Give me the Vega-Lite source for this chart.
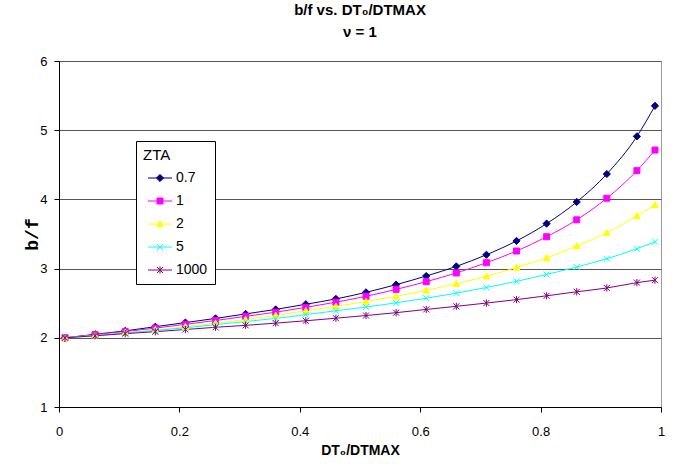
{
  "$schema": "https://vega.github.io/schema/vega-lite/v6.json",
  "width": 602,
  "height": 346,
  "autosize": {"type": "none"},
  "padding": {"left": 59, "top": 61, "right": 20, "bottom": 68},
  "background": "white",
  "config": {
    "font": "Liberation Sans",
    "view": {"stroke": "#9a9a9a", "strokeWidth": 1},
    "legend": {
      "orient": "none",
      "legendX": 77,
      "legendY": 80,
      "strokeColor": "#000000",
      "fillColor": "#ffffff",
      "padding": 7,
      "titleFontSize": 15,
      "titleFontWeight": "normal",
      "titleColor": "#000000",
      "titlePadding": 8,
      "labelFontSize": 14,
      "labelColor": "#000000",
      "symbolSize": 36,
      "symbolOpacity": 1,
      "symbolStrokeWidth": 1,
      "symbolOffset": 10,
      "labelOffset": 9,
      "rowPadding": 9
    }
  },
  "title": {
    "text": ["b/f vs. DT₀/DTMAX", "ν = 1"],
    "fontSize": 15,
    "fontWeight": "bold",
    "color": "#000000",
    "lineHeight": 22,
    "anchor": "middle",
    "offset": 15
  },
  "data": {
    "values": [
      {"x": 0.01, "s": "0.7", "y": 2.0},
      {"x": 0.06, "s": "0.7", "y": 2.05},
      {"x": 0.11, "s": "0.7", "y": 2.1},
      {"x": 0.16, "s": "0.7", "y": 2.16},
      {"x": 0.21, "s": "0.7", "y": 2.22},
      {"x": 0.26, "s": "0.7", "y": 2.28},
      {"x": 0.31, "s": "0.7", "y": 2.345},
      {"x": 0.36, "s": "0.7", "y": 2.41},
      {"x": 0.41, "s": "0.7", "y": 2.485},
      {"x": 0.46, "s": "0.7", "y": 2.562},
      {"x": 0.51, "s": "0.7", "y": 2.657},
      {"x": 0.56, "s": "0.7", "y": 2.768},
      {"x": 0.61, "s": "0.7", "y": 2.893},
      {"x": 0.66, "s": "0.7", "y": 3.032},
      {"x": 0.71, "s": "0.7", "y": 3.2},
      {"x": 0.76, "s": "0.7", "y": 3.4},
      {"x": 0.81, "s": "0.7", "y": 3.65},
      {"x": 0.86, "s": "0.7", "y": 3.963},
      {"x": 0.91, "s": "0.7", "y": 4.367},
      {"x": 0.96, "s": "0.7", "y": 4.911},
      {"x": 0.99, "s": "0.7", "y": 5.352},
      {"x": 0.01, "s": "1", "y": 2.0},
      {"x": 0.06, "s": "1", "y": 2.045},
      {"x": 0.11, "s": "1", "y": 2.09},
      {"x": 0.16, "s": "1", "y": 2.14},
      {"x": 0.21, "s": "1", "y": 2.195},
      {"x": 0.26, "s": "1", "y": 2.25},
      {"x": 0.31, "s": "1", "y": 2.31},
      {"x": 0.36, "s": "1", "y": 2.37},
      {"x": 0.41, "s": "1", "y": 2.44},
      {"x": 0.46, "s": "1", "y": 2.515},
      {"x": 0.51, "s": "1", "y": 2.6},
      {"x": 0.56, "s": "1", "y": 2.7},
      {"x": 0.61, "s": "1", "y": 2.811},
      {"x": 0.66, "s": "1", "y": 2.937},
      {"x": 0.71, "s": "1", "y": 3.085},
      {"x": 0.76, "s": "1", "y": 3.254},
      {"x": 0.81, "s": "1", "y": 3.46},
      {"x": 0.86, "s": "1", "y": 3.705},
      {"x": 0.91, "s": "1", "y": 4.017},
      {"x": 0.96, "s": "1", "y": 4.415},
      {"x": 0.99, "s": "1", "y": 4.713},
      {"x": 0.01, "s": "2", "y": 2.0},
      {"x": 0.06, "s": "2", "y": 2.035},
      {"x": 0.11, "s": "2", "y": 2.075},
      {"x": 0.16, "s": "2", "y": 2.115},
      {"x": 0.21, "s": "2", "y": 2.16},
      {"x": 0.26, "s": "2", "y": 2.21},
      {"x": 0.31, "s": "2", "y": 2.265},
      {"x": 0.36, "s": "2", "y": 2.325},
      {"x": 0.41, "s": "2", "y": 2.39},
      {"x": 0.46, "s": "2", "y": 2.455},
      {"x": 0.51, "s": "2", "y": 2.525},
      {"x": 0.56, "s": "2", "y": 2.6},
      {"x": 0.61, "s": "2", "y": 2.686},
      {"x": 0.66, "s": "2", "y": 2.783},
      {"x": 0.71, "s": "2", "y": 2.89},
      {"x": 0.76, "s": "2", "y": 3.017},
      {"x": 0.81, "s": "2", "y": 3.153},
      {"x": 0.86, "s": "2", "y": 3.326},
      {"x": 0.91, "s": "2", "y": 3.517},
      {"x": 0.96, "s": "2", "y": 3.762},
      {"x": 0.99, "s": "2", "y": 3.921},
      {"x": 0.01, "s": "5", "y": 2.0},
      {"x": 0.06, "s": "5", "y": 2.03},
      {"x": 0.11, "s": "5", "y": 2.07},
      {"x": 0.16, "s": "5", "y": 2.105},
      {"x": 0.21, "s": "5", "y": 2.145},
      {"x": 0.26, "s": "5", "y": 2.19},
      {"x": 0.31, "s": "5", "y": 2.235},
      {"x": 0.36, "s": "5", "y": 2.28},
      {"x": 0.41, "s": "5", "y": 2.335},
      {"x": 0.46, "s": "5", "y": 2.39},
      {"x": 0.51, "s": "5", "y": 2.445},
      {"x": 0.56, "s": "5", "y": 2.505},
      {"x": 0.61, "s": "5", "y": 2.572},
      {"x": 0.66, "s": "5", "y": 2.645},
      {"x": 0.71, "s": "5", "y": 2.727},
      {"x": 0.76, "s": "5", "y": 2.816},
      {"x": 0.81, "s": "5", "y": 2.916},
      {"x": 0.86, "s": "5", "y": 3.023},
      {"x": 0.91, "s": "5", "y": 3.143},
      {"x": 0.96, "s": "5", "y": 3.287},
      {"x": 0.99, "s": "5", "y": 3.388},
      {"x": 0.01, "s": "1000", "y": 2.0},
      {"x": 0.06, "s": "1000", "y": 2.03},
      {"x": 0.11, "s": "1000", "y": 2.06},
      {"x": 0.16, "s": "1000", "y": 2.088},
      {"x": 0.21, "s": "1000", "y": 2.12},
      {"x": 0.26, "s": "1000", "y": 2.152},
      {"x": 0.31, "s": "1000", "y": 2.18},
      {"x": 0.36, "s": "1000", "y": 2.212},
      {"x": 0.41, "s": "1000", "y": 2.246},
      {"x": 0.46, "s": "1000", "y": 2.283},
      {"x": 0.51, "s": "1000", "y": 2.322},
      {"x": 0.56, "s": "1000", "y": 2.363},
      {"x": 0.61, "s": "1000", "y": 2.41},
      {"x": 0.66, "s": "1000", "y": 2.455},
      {"x": 0.71, "s": "1000", "y": 2.502},
      {"x": 0.76, "s": "1000", "y": 2.552},
      {"x": 0.81, "s": "1000", "y": 2.607},
      {"x": 0.86, "s": "1000", "y": 2.665},
      {"x": 0.91, "s": "1000", "y": 2.72},
      {"x": 0.96, "s": "1000", "y": 2.797},
      {"x": 0.99, "s": "1000", "y": 2.833}
    ]
  },
  "encoding": {
    "x": {
      "field": "x",
      "type": "quantitative",
      "scale": {"domain": [0, 1], "nice": false, "zero": false},
      "axis": {
        "title": "DT₀/DTMAX",
        "values": [0, 0.2, 0.4, 0.6, 0.8, 1],
        "format": "~g",
        "grid": false,
        "domainColor": "#000000",
        "tickColor": "#000000",
        "tickSize": 5,
        "labelPadding": 13,
        "labelFontSize": 13,
        "labelColor": "#000000",
        "labelFlush": false,
        "titleFontSize": 14,
        "titleFontWeight": "bold",
        "titleColor": "#000000",
        "titlePadding": 5
      }
    },
    "y": {
      "field": "y",
      "type": "quantitative",
      "scale": {"domain": [1, 6], "nice": false, "zero": false},
      "axis": {
        "title": "b/f",
        "values": [1, 2, 3, 4, 5, 6],
        "grid": true,
        "gridColor": "#555555",
        "gridWidth": 1,
        "domainColor": "#000000",
        "tickColor": "#000000",
        "tickSize": 5,
        "labelPadding": 7,
        "labelFontSize": 13,
        "labelColor": "#000000",
        "titleFont": "Liberation Mono",
        "titleFontSize": 18,
        "titleFontWeight": "bold",
        "titleColor": "#000000",
        "titleX": -27,
        "titleY": 173,
        "titleAngle": -90,
        "titleBaseline": "middle",
        "titleAlign": "center"
      }
    },
    "color": {
      "field": "s",
      "type": "nominal",
      "scale": {
        "domain": ["0.7", "1", "2", "5", "1000"],
        "range": ["#000080", "#FF00FF", "#FFFF00", "#00FFFF", "#800080"]
      },
      "legend": {
        "title": "ZTA",
        "encode": {
          "symbols": {
            "update": {
              "strokeWidth": {"value": 1},
              "opacity": {"value": 1},
              "shape": {
                "signal": "datum.value === '0.7' ? 'M-4,0H4M0,-1.2L1.2,0L0,1.2L-1.2,0Z' : datum.value === '1' ? 'M-4,0H-1M1,0H4M-1,-1H1V1H-1Z' : datum.value === '2' ? 'M-4,0H4M0,-1.1L1.1,0.9H-1.1Z' : datum.value === '5' ? 'M-4,0H4M-1,-1L1,1M-1,1L1,-1' : 'M-4,0H4M-1,-1L1,1M-1,1L1,-1M0,-1.2V1.2'"
              }
            }
          }
        }
      }
    }
  },
  "layer": [
    {
      "mark": {"type": "line", "interpolate": "monotone", "strokeWidth": 1}
    },
    {
      "mark": {
        "type": "point",
        "filled": false,
        "opacity": 1,
        "size": 36,
        "strokeWidth": 1,
        "shape": {"expr": "datum.s === '0.7' ? 'M0,-1.2L1.2,0L0,1.2L-1.2,0Z' : datum.s === '1' ? 'M-1,-1H1V1H-1Z' : datum.s === '2' ? 'M0,-1.1L1.1,0.9H-1.1Z' : datum.s === '5' ? 'M-1,-1L1,1M-1,1L1,-1' : 'M-1,-1L1,1M-1,1L1,-1M0,-1.2V1.2'"}
      },
      "encoding": {
        "fill": {
          "field": "s",
          "type": "nominal",
          "scale": {
            "domain": ["0.7", "1", "2", "5", "1000"],
            "range": ["#000080", "#FF00FF", "#FFFF00", "#00FFFF", "#800080"]
          },
          "legend": {
            "title": "ZTA",
            "encode": {
              "symbols": {
                "update": {
                  "strokeWidth": {"value": 1},
                  "opacity": {"value": 1},
                  "shape": {
                    "signal": "datum.value === '0.7' ? 'M-4,0H4M0,-1.2L1.2,0L0,1.2L-1.2,0Z' : datum.value === '1' ? 'M-4,0H-1M1,0H4M-1,-1H1V1H-1Z' : datum.value === '2' ? 'M-4,0H4M0,-1.1L1.1,0.9H-1.1Z' : datum.value === '5' ? 'M-4,0H4M-1,-1L1,1M-1,1L1,-1' : 'M-4,0H4M-1,-1L1,1M-1,1L1,-1M0,-1.2V1.2'"
                  }
                }
              }
            }
          }
        }
      }
    }
  ]
}
